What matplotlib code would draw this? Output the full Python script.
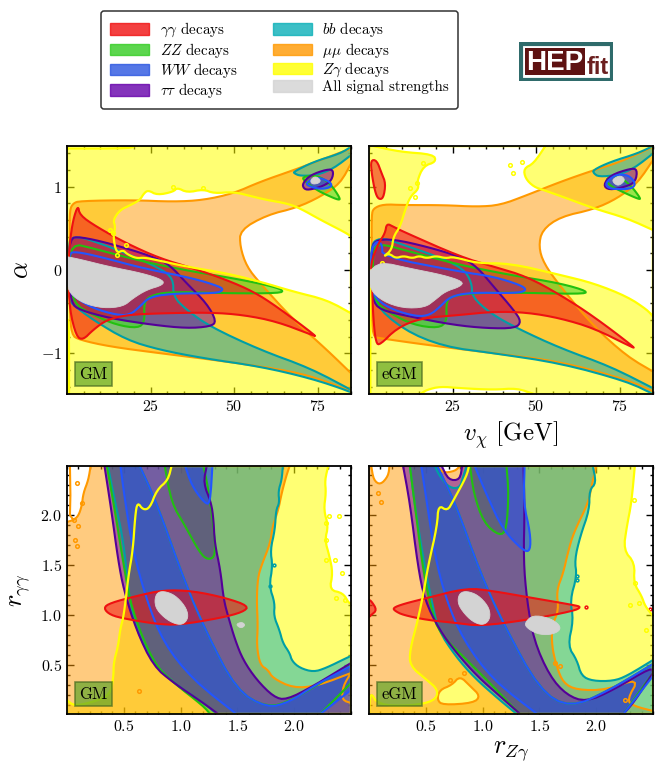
import numpy as np
import matplotlib
matplotlib.use("Agg")
import matplotlib.pyplot as plt
from matplotlib.path import Path
from matplotlib.patches import PathPatch, Patch, Rectangle
from matplotlib.ticker import MultipleLocator

plt.rcParams["font.family"] = "cmr10"
plt.rcParams["mathtext.fontset"] = "cm"
plt.rcParams["axes.formatter.use_mathtext"] = True

W, H = 665, 775

# Top row, GM: v_chi vs alpha
gm_a_yellow_holes = [
    [(14.8,.20),(13.8,.40),(14.5,.52),(13.8,.60),(15.8,.72),(19,.78),(21.8,.84),(23,.92),(24.3,.96),(27,.90),(31.8,.94),(33,.99),(36,.93),(40.8,.97),(44,.92),(49.8,.94),(55.8,.88),(60,.84),(65.8,.80),(69.8,.74),(76,.60),(83.8,.44),(85,.40),(85,-.52),(77.8,-.36),(67.8,-.26),(57.8,-.14),(47.8,-.04),(35.8,.04),(26.8,.12),(23,.15),(20.8,.14),(18,.19),(16.8,.24)],
    [(0,1.46),(19.8,1.46),(19.8,1.5),(0,1.5)],
    [(0,-.6),(.6,-.6),(.6,-1.49),(0,-1.49)],
]
gm_a_yellow_dots = [(12.8,.48),(13.8,.44),(17.8,.30),(15,.18),(40.8,.98),(31.8,1.0)]
gm_a_orange = [[(1.8,.80),(3.8,.83),(19.8,.84),(31.8,.82),(40.8,.84),(49.8,.92),(57.8,1.06),(67.8,1.20),(75.8,1.32),(85,1.46),(85,1.28),(81.8,1.04),(75.8,.88),(68.8,.75),(59.8,.66),(51.8,.48),(51.8,.28),(53.8,.04),(57.8,-.16),(67.8,-.60),(77.8,-.96),(85,-1.24),(85,-1.46),(77.8,-1.34),(67.8,-1.22),(47.8,-1.10),(27.8,-1.0),(12.8,-.92),(3.8,-.84),(1.3,-.78),(.8,-.44),(.8,.40),(.8,.72)]]
gm_a_teal = [
    [(1,.38),(3.8,.40),(9.8,.32),(17.8,.20),(27.8,.02),(31.8,-.10),(31.8,-.32),(35.8,-.48),(42.8,-.68),(57.8,-.96),(72.8,-1.18),(85,-1.44),(85,-1.49),(84.8,-1.46),(72.8,-1.30),(57.8,-1.16),(40.8,-1.06),(27.8,-.96),(17.8,-.84),(7.8,-.60),(1.8,-.42),(.8,-.36),(.4,-.04),(.6,.28)],
    [(67.8,1.18),(73.8,1.30),(81.8,1.40),(85,1.48),(85,1.38),(79.8,1.22),(74.8,1.14),(69.8,1.13),(68.1,1.16)],
]
gm_a_red = [[(3.3,.78),(3.8,.66),(8.8,.52),(17.8,.32),(27.8,.14),(37.8,.02),(47.8,-.12),(55.8,-.26),(62.8,-.44),(74.8,-.80),(73.3,-.78),(62.8,-.62),(52.8,-.54),(42.8,-.51),(27.8,-.52),(17.8,-.54),(11.8,-.60),(7.8,-.72),(4.8,-.84),(2.8,-.80),(.8,-.48),(.3,-.04),(.8,.32),(1.8,.60)]]
gm_a_green = [
    [(1.3,.32),(7.8,.26),(22.8,.10),(37.8,-.02),(49.8,-.10),(59.8,-.18),(64.8,-.24),(63.8,-.28),(47.8,-.28),(30.8,-.26),(24.8,-.31),(23,-.40),(23.3,-.62),(21.3,-.70),(14.8,-.66),(7.8,-.54),(1.8,-.40),(.6,-.04)],
    [(70.3,1.12),(74.8,1.14),(78.8,1.04),(81.8,.86),(81.3,.84),(77.8,.90),(74.8,.96),(71.3,1.06)],
]
gm_a_blue = [
    [(.4,.20),(2.8,.22),(9.8,.16),(22.8,.02),(37.8,-.10),(45.8,-.20),(46.8,-.24),(44.8,-.28),(32.8,-.28),(24.8,-.32),(21.8,-.44),(18.8,-.54),(14.8,-.54),(7.8,-.46),(2.8,-.34),(.6,-.24)],
    [(71.3,1.04),(74.8,1.12),(78.8,1.06),(79.3,1.0),(76.3,.97),(72.8,1.0)],
]
gm_a_purple = [
    [(.8,.38),(3.8,.40),(12.8,.32),(25.8,.16),(30.8,.06),(35.8,-.16),(41.8,-.40),(44.8,-.62),(42.8,-.68),(35.8,-.70),(25.8,-.66),(12.8,-.58),(3.8,-.48),(1.3,-.40),(.3,-.04)],
    [(70.5,1.04),(72.8,1.14),(77.8,1.21),(79.8,1.20),(79.3,1.08),(76.8,1.01),(72.3,.96),(70.8,.98)],
]
gm_a_grey = [
    [(0,.16),(3.8,.13),(12.8,.04),(22.8,-.04),(28.8,-.12),(28.8,-.18),(23.8,-.24),(19.8,-.34),(16.8,-.44),(10.8,-.46),(4.8,-.40),(.8,-.28),(0,-.16)],
    [(72.8,1.08),(74.3,1.13),(76,1.08),(75.3,1.04),(73.3,1.03)],
]

# Top row, eGM
egm_a_yellow_holes = [
    [(1.3,1.49),(9.3,1.42),(19.3,1.39),(20.1,1.30),(16.3,1.25),(14.3,1.06),(15,.98),(12.3,.88),(10.8,.72),(9.3,.52),(7.3,.40),(6.8,.24),(4.3,.16),(6,.20),(8,.14),(10.3,.17),(13,.14),(15,.17),(17.3,.14),(20,.17),(23,.14),(25.3,.16),(32.3,.08),(42.3,.08),(57.3,-.06),(67.3,-.16),(77.3,-.32),(83.3,-.48),(85,-.56),(85,.48),(77.3,.62),(67.3,.74),(59.3,.86),(52.3,.96),(49.3,1.0),(46.8,1.10),(46.3,1.22),(49.3,1.28),(52.8,1.49)],
    [(15.3,-1.49),(17.3,-1.44),(21.3,-1.40),(27.3,-1.42),(37.3,-1.44),(44.3,-1.42),(49.3,-1.49)],
    [(0,0),(.4,0),(.4,-1.49),(0,-1.49)],
]
egm_a_yellow_dots = [(42.3,1.26),(45.8,1.30),(43,1.17),(14.3,1.04),(16.3,1.28),(13.8,.88),(12.3,.98),(4,.08)]
egm_a_orange = [[(1.3,.74),(4.3,.79),(10.3,.78),(22.3,.78),(32.3,.76),(39.3,.78),(47.3,.90),(57.3,1.06),(67.3,1.20),(75.3,1.30),(85,1.48),(85,1.32),(80.3,1.04),(74.3,.86),(67.3,.73),(57.3,.64),(51.8,.48),(50.8,.28),(52.3,.08),(57.3,-.20),(67.3,-.68),(77.3,-1.04),(85,-1.22),(85,-1.46),(77.3,-1.32),(57.3,-1.10),(37.3,-1.0),(17.3,-.90),(3.3,-.82),(1.1,-.80),(.8,-.44),(.8,.36),(.8,.66)]]
egm_a_teal = [
    [(.8,.28),(1.8,.36),(4.8,.38),(10.3,.30),(19.3,.18),(28.3,.02),(30.8,-.16),(30.8,-.32),(36.3,-.52),(44.3,-.70),(57.3,-.94),(72.3,-1.16),(85,-1.42),(85,-1.49),(77.3,-1.34),(57.3,-1.12),(37.3,-1.0),(22.3,-.92),(10.3,-.72),(1.3,-.40),(.3,-.04)],
    [(67,1.20),(72.3,1.30),(80.3,1.40),(85,1.49),(85,1.40),(79.3,1.22),(74.3,1.14),(68.8,1.12),(67.3,1.16)],
]
egm_a_red = [
    [(5.3,.56),(7.3,.52),(10.3,.46),(27.3,.16),(37.3,.04),(47.3,-.08),(57.3,-.30),(67.3,-.56),(79.8,-.94),(78.3,-.92),(67.3,-.70),(57.3,-.58),(47.3,-.51),(37.3,-.50),(27.3,-.54),(15.3,-.58),(8.3,-.70),(3.3,-.90),(2.1,-.88),(1.3,-.60),(.8,-.12),(.5,.08),(2.8,.32),(4.8,.44)],
    [(.5,1.32),(2.3,1.32),(3.8,1.16),(5,1.04),(4.3,.86),(2.8,.85),(1.8,.94),(.8,1.16)],
]
egm_a_green = [
    [(1.1,.24),(3.3,.32),(12.3,.22),(27.3,.06),(42.3,-.06),(57.3,-.16),(65.8,-.26),(63.3,-.29),(42.3,-.27),(30.3,-.28),(24.3,-.32),(23.1,-.40),(23.3,-.62),(20.8,-.70),(13.3,-.66),(6.3,-.52),(1.1,-.36)],
    [(70.8,1.10),(74.3,1.14),(78.3,1.02),(81.3,.86),(80.8,.85),(76.3,.93),(71.8,1.02)],
]
egm_a_blue = [
    [(.4,.10),(1,.28),(2.5,.35),(4,.30),(4,.16),(27.3,-.02),(37.3,-.08),(45.3,-.18),(47.3,-.24),(44.3,-.28),(30.3,-.27),(24.3,-.32),(21.3,-.44),(18.3,-.54),(14.3,-.56),(7.3,-.48),(2.3,-.36),(.6,-.2)],
    [(70.6,1.04),(73.8,1.15),(77.8,1.14),(79.8,1.04),(78.8,.98),(75.3,.97),(71.8,.98)],
]
egm_a_purple = [
    [(.8,.24),(1.8,.36),(7.3,.37),(17.3,.28),(27.3,.16),(32.3,.04),(37.3,-.20),(43.3,-.48),(45.6,-.62),(43.8,-.70),(35.3,-.70),(25.3,-.66),(12.3,-.56),(3.3,-.48),(1.1,-.36),(.3,-.12)],
    [(70.1,1.02),(72.3,1.14),(78.3,1.22),(80.3,1.21),(79.8,1.06),(76.8,1.0),(71.8,.96)],
]
egm_a_grey = [
    [(0,-.02),(3.3,.10),(12.3,.02),(22.3,-.06),(28.3,-.14),(27.3,-.20),(22.8,-.26),(19.8,-.36),(16.8,-.45),(10.3,-.46),(4.3,-.38),(.3,-.24)],
    [(72.8,1.09),(75.3,1.14),(76.8,1.08),(74.8,1.01),(73.3,1.04)],
]

# Bottom row, GM: r_Zgamma vs r_gammagamma
gm_r_yellow = [[(0,.15),(.06,.09),(.23,.13),(.38,.20),(.41,.39),(.41,.52),(.45,.69),(.47,.87),(.50,.99),(.54,1.39),(.58,1.65),(.60,1.99),(.62,2.13),(.67,2.05),(.73,2.07),(.79,2.25),(.89,2.35),(.92,2.49),(2.30,2.49),(2.27,2.35),(2.28,2.22),(2.26,2.05),(2.30,1.89),(2.27,1.75),(2.31,1.59),(2.34,1.42),(2.31,1.25),(2.43,1.22),(2.48,1.12),(2.5,1.12),(2.5,.01),(0,.01)]]
gm_r_yellow_dots = [(2.31,1.99),(2.28,1.92),(2.36,1.55),(2.28,1.55),(2.42,1.42),(2.45,1.15),(2.37,1.17),(2.39,1.99),(2.28,1.75)]
gm_r_orange = [[(0,1.93),(.056,1.95),(.10,1.99),(.13,2.09),(.144,2.22),(.188,2.35),(.208,2.49),(1.96,2.49),(1.93,2.39),(1.89,2.22),(1.86,2.05),(1.81,1.89),(1.79,1.72),(1.71,1.49),(1.68,1.37),(1.67,1.15),(1.68,.89),(1.67,.69),(1.70,.50),(1.77,.45),(1.81,.37),(1.99,.27),(2.20,.29),(2.5,.42),(2.43,.29),(2.42,.15),(2.5,.12),(2.5,.01),(0,.01)]]
gm_r_orange_edge = [(.026,2.49),(.03,2.2),(.026,2.0),(.056,1.95)]
gm_r_orange_dots = [(.13,2.12),(.06,1.95),(.10,1.89),(.09,1.69),(.07,1.75),(.63,.24),(.09,2.32)]
gm_r_teal = [[(.36,2.49),(.42,2.15),(.50,1.72),(.54,1.22),(.61,.85),(.76,.52),(.94,.32),(1.20,.12),(1.32,.01),(2.5,.01),(2.5,.59),(2.46,.57),(2.28,.47),(2.17,.43),(2.05,.47),(1.98,.54),(1.96,.62),(1.90,.72),(1.87,.85),(1.82,.99),(1.83,1.12),(1.78,1.29),(1.81,1.49),(1.79,1.65),(1.83,1.85),(1.84,2.05),(1.87,2.12),(1.86,2.24),(1.89,2.35),(1.90,2.49)]]
gm_r_teal_dots = [(1.79,1.29),(1.82,1.5)]
gm_r_purple = [[(.33,2.49),(.39,2.05),(.45,1.55),(.50,1.25),(.61,.85),(.76,.49),(.94,.32),(1.20,.12),(1.33,.01),(2.5,.01),(2.5,.52),(2.17,.29),(1.93,.15),(1.82,.18),(1.67,.35),(1.55,.55),(1.48,.75),(1.42,.98),(1.38,1.15),(1.35,1.45),(1.30,1.72),(1.29,1.95),(1.27,2.12),(1.20,2.32),(1.23,2.49)]]
gm_r_green = [
    [(.35,2.49),(.41,2.12),(.50,1.49),(.57,1.05),(.76,.52),(.94,.32),(1.20,.09),(1.26,.01),(2.23,.01),(2.5,.32),(2.5,.51),(1.99,.15),(1.76,.07),(1.49,.25),(1.23,.82),(1.04,1.32),(.79,2.12),(.64,2.49)],
    [(.86,2.49),(.92,2.12),(1.04,1.89),(1.17,1.62),(1.24,1.55),(1.31,1.59),(1.29,1.89),(1.24,2.29),(1.20,2.49)],
]
gm_r_blue = [
    [(.47,2.49),(.51,2.15),(.58,1.65),(.70,1.15),(.85,.72),(1.11,.35),(1.49,.01),(2.23,.01),(2.5,.25),(2.5,.49),(2.17,.29),(1.96,.13),(1.76,.07),(1.49,.25),(1.23,.82),(1.04,1.32),(.79,2.12),(.64,2.49)],
    [(1.04,2.49),(1.10,2.29),(1.21,2.12),(1.26,2.11),(1.28,2.49)],
]
gm_r_red = [[(.32,1.07),(.38,1.12),(.61,1.19),(.85,1.25),(1.11,1.24),(1.40,1.17),(1.60,1.09),(1.55,1.03),(1.35,.97),(.98,.90),(.79,.91),(.52,.96),(.38,1.0)]]
gm_r_grey = [
    [(.85,1.24),(.95,1.20),(1.04,1.09),(1.07,.99),(1.04,.92),(.98,.90),(.88,.95),(.79,1.05),(.77,1.14),(.79,1.22)],
    [(1.49,.91),(1.54,.93),(1.57,.90),(1.54,.87),(1.51,.88)],
]

# Bottom row, eGM
egm_r_yellow = [[(.01,.24),(.08,.10),(.36,.09),(.58,.14),(.61,.25),(.51,.35),(.36,.49),(.36,.65),(.43,.95),(.48,1.22),(.52,1.49),(.60,1.89),(.61,2.10),(.69,2.04),(.74,2.14),(.86,2.39),(.88,2.49),(2.34,2.49),(2.31,2.12),(2.27,1.89),(2.24,1.65),(2.34,1.52),(2.33,1.32),(2.40,1.19),(2.43,1.09),(2.5,.99),(2.5,.01),(0,.01)]]
egm_r_yellow_dots = [(2.33,2.15),(2.34,1.32),(2.30,1.10),(2.38,1.12),(2.44,.85)]
egm_r_orange = [[(0,2.49),(.02,2.49),(.04,2.35),(.10,2.30),(.17,2.39),(.18,2.49),(.60,2.49),(.65,2.42),(.76,2.44),(.80,2.49),(2.0,2.49),(1.96,2.29),(1.93,2.12),(1.80,1.82),(1.75,1.62),(1.71,1.42),(1.65,1.24),(1.67,1.05),(1.61,.89),(1.61,.69),(1.65,.49),(1.71,.32),(1.83,.25),(2.09,.25),(2.38,.37),(2.27,.15),(2.33,.09),(2.5,.04),(2.5,.01),(0,.01)]]
egm_r_orange_hole = [[(.62,.25),(.73,.30),(.80,.39),(.89,.29),(.98,.19),(.92,.12),(.65,.10),(.60,.15)]]
egm_r_orange_dots = [(.08,2.22),(.11,2.13),(2.25,.15),(.84,.42),(.71,.35),(1.68,.49),(1.64,.52)]
egm_r_teal = [[(.36,2.49),(.40,2.12),(.48,1.55),(.55,1.15),(.61,.85),(.76,.59),(.93,.37),(1.15,.15),(1.30,.01),(2.5,.01),(2.5,.55),(2.27,.39),(2.15,.34),(1.97,.34),(1.87,.39),(1.83,.55),(1.75,.69),(1.80,.95),(1.77,1.15),(1.83,1.39),(1.81,1.55),(1.86,1.79),(1.94,2.05),(1.94,2.25),(2.0,2.32),(1.97,2.49),(.86,2.49),(.83,2.39),(.80,2.27),(.71,2.27),(.62,2.39),(.58,2.49)]]
egm_r_teal_dots = [(1.83,1.39),(1.83,1.35)]
egm_r_purple = [[(.30,2.49),(.36,2.12),(.43,1.49),(.49,1.15),(.62,.85),(.77,.62),(.95,.39),(1.15,.19),(1.33,.01),(2.24,.01),(2.34,.14),(2.5,.42),(2.49,.48),(2.15,.25),(1.91,.13),(1.74,.20),(1.59,.39),(1.45,.75),(1.39,1.15),(1.36,1.55),(1.37,2.05),(1.36,2.49),(.82,2.49),(.80,2.35),(.70,2.35),(.64,2.49)]]
egm_r_green = [
    [(.36,2.49),(.42,1.95),(.48,1.42),(.55,1.05),(.62,.82),(.86,.55),(1.09,.29),(1.30,.04),(1.33,.01),(2.24,.01),(2.5,.42),(2.5,.51),(2.12,.25),(1.77,.07),(1.50,.25),(1.18,.92),(.98,1.42),(.76,2.12),(.60,2.49)],
    [(.89,2.49),(.92,2.22),(1.01,1.92),(1.15,1.79),(1.21,1.85),(1.23,2.22),(1.21,2.49)],
]
egm_r_blue = [
    [(.46,2.49),(.51,2.12),(.58,1.59),(.68,1.15),(.83,.75),(1.09,.35),(1.48,.01),(2.24,.01),(2.5,.39),(2.5,.51),(2.12,.25),(1.77,.07),(1.50,.25),(1.18,.92),(.98,1.42),(.76,2.12),(.60,2.49)],
    [(.93,2.49),(1.04,2.19),(1.18,1.85),(1.36,1.64),(1.42,1.64),(1.42,1.82),(1.36,2.12),(1.37,2.49)],
]
egm_r_red = [
    [(.21,1.07),(.30,1.11),(.51,1.17),(.86,1.27),(1.09,1.24),(1.39,1.18),(1.80,1.10),(1.87,1.08),(1.80,1.04),(1.39,.95),(.98,.89),(.77,.92),(.51,.95),(.30,1.0),(.23,1.04)],
    [(0,1.15),(.02,1.14),(.07,1.05),(.02,1.0),(0,.98)],
]
egm_r_red_dots = [(1.91,1.08),(2.47,1.06)]
egm_r_grey = [
    [(.86,1.24),(.96,1.20),(1.05,1.09),(1.07,.99),(1.04,.92),(.98,.90),(.89,.95),(.80,1.07),(.78,1.15),(.80,1.22)],
    [(1.37,.92),(1.44,1.0),(1.59,.97),(1.68,.90),(1.68,.84),(1.59,.80),(1.48,.81),(1.39,.87)],
]

LEGEND_LABELS = [r"$\gamma\gamma$ decays", r"$ZZ$ decays", r"$WW$ decays", r"$\tau\tau$ decays",
                 r"$bb$ decays", r"$\mu\mu$ decays", r"$Z\gamma$ decays", "All signal strengths"]

COL = {"yellow": "#FFFF00", "orange": "#FF9900", "teal": "#0BB0B8", "purple": "#6600AA",
       "green": "#33CC22", "blue": "#2A55E0", "red": "#F01010", "grey": "#D3D3D3"}
EDGE = {"yellow": "#FFFF00", "orange": "#FF9900", "teal": "#009FA5", "purple": "#550099",
        "green": "#22C010", "blue": "#2255FF", "red": "#EE1111", "grey": "#D3D3D3"}
ALPHA = {"yellow": 0.55, "orange": 0.5, "teal": 0.5, "purple": 0.5, "green": 0.5, "blue": 0.6, "red": 0.55, "grey": 1}
# contour lines sit above every fill, the grey fill above them
EDGE_Z = {"yellow": 8.6, "orange": 8.1, "teal": 8.2, "green": 8.3, "purple": 8.4, "blue": 8.5, "red": 8.55, "grey": 9.1}


def smooth(pts, xlim, ylim, n=2):
    # corner cutting, vertices on the frame stay where they are
    pts = np.array(pts, float)
    xspan, yspan = xlim[1] - xlim[0], ylim[1] - ylim[0]
    for _ in range(n):
        on_frame = (pts[:, 0] <= xlim[0] + 0.002 * xspan) | (pts[:, 0] >= xlim[1] - 0.002 * xspan) \
            | (pts[:, 1] <= ylim[0] + 0.002 * yspan) | (pts[:, 1] >= ylim[1] - 0.002 * yspan)
        out = []
        for i in range(len(pts)):
            j = (i + 1) % len(pts)
            p, q = pts[i], pts[j]
            out.append(p if on_frame[i] else 0.75 * p + 0.25 * q)
            out.append(q if on_frame[j] else 0.25 * p + 0.75 * q)
        pts = np.array(out)
    return pts


def oriented(pts, ccw=True):
    x, y = pts[:, 0], pts[:, 1]
    area = np.sum(x * np.roll(y, -1) - np.roll(x, -1) * y)
    return pts if (area > 0) == ccw else pts[::-1]


def make_path(polys, holes, xlim, ylim):
    verts, codes = [], []
    for pts, ccw in [(p, True) for p in polys] + [(h, False) for h in holes]:
        s = oriented(smooth(pts, xlim, ylim), ccw)
        verts += list(s) + [s[0]]
        codes += [Path.MOVETO] + [Path.LINETO] * (len(s) - 1) + [Path.CLOSEPOLY]
    return Path(np.array(verts), codes)


def region(ax, name, polys, holes=(), lw=1.5, z=2):
    xlim, ylim = ax.get_xlim(), ax.get_ylim()
    path = make_path(polys, holes, xlim, ylim)
    ax.add_patch(PathPatch(path, fc=COL[name], ec="none", alpha=ALPHA[name], zorder=z))
    ax.add_patch(PathPatch(path, fc="none", ec=EDGE[name], lw=lw, zorder=EDGE_Z[name], joinstyle="round"))


def dots(ax, name, pts, size=2.6):
    x, y = zip(*pts)
    ax.plot(x, y, ls="none", marker="o", ms=size, mfc="none", mec=EDGE[name], mew=1.1, zorder=EDGE_Z[name])


def new_axes(left, top, xlim, ylim):
    ax = fig.add_axes([left / W, 1 - (top + 248) / H, 284 / W, 248 / H])
    ax.set_xlim(*xlim)
    ax.set_ylim(*ylim)
    ax.tick_params(which="both", direction="in", top=True, right=True, width=1.0, labelsize=11.5)
    ax.tick_params(which="major", length=5)
    ax.tick_params(which="minor", length=2.5)
    for s in ax.spines.values():
        s.set_linewidth(1.3)
        s.set_zorder(20)
    return ax


def model_tag(ax, label):
    ax.text(0.043, 0.05, label, transform=ax.transAxes, fontsize=12, va="bottom", ha="left", zorder=15,
            bbox=dict(boxstyle="square,pad=0.28", fc="#60A52B", ec="#4a6b20", lw=1.2, alpha=0.7))


fig = plt.figure(figsize=(W / 100, H / 100), dpi=100)

alim = ((0, 85), (-1.49, 1.49))
rlim = ((0, 2.5), (0.01, 2.49))

ax1 = new_axes(67, 146, *alim)
ax2 = new_axes(369, 146, *alim)
ax3 = new_axes(67, 466, *rlim)
ax4 = new_axes(369, 466, *rlim)

full_a = [[(0, -1.49), (85, -1.49), (85, 1.49), (0, 1.49)]]

region(ax1, "yellow", full_a, gm_a_yellow_holes, lw=1.6)
region(ax2, "yellow", full_a, egm_a_yellow_holes, lw=1.6)
region(ax3, "yellow", gm_r_yellow, lw=1.6)
region(ax4, "yellow", egm_r_yellow, lw=1.6)
dots(ax1, "yellow", gm_a_yellow_dots)
dots(ax2, "yellow", egm_a_yellow_dots)
dots(ax3, "yellow", gm_r_yellow_dots)
dots(ax4, "yellow", egm_r_yellow_dots)

region(ax1, "orange", gm_a_orange, z=2.5)
region(ax2, "orange", egm_a_orange, z=2.5)
region(ax3, "orange", gm_r_orange, z=2.5)
region(ax4, "orange", egm_r_orange, egm_r_orange_hole, z=2.5)
dots(ax3, "orange", gm_r_orange_dots)
dots(ax4, "orange", egm_r_orange_dots)
ax3.plot(*zip(*gm_r_orange_edge), color=EDGE["orange"], lw=1.5, zorder=EDGE_Z["orange"])

layers = [
    (ax1, gm_a_teal, gm_a_green, gm_a_purple, gm_a_blue, gm_a_red, gm_a_grey),
    (ax2, egm_a_teal, egm_a_green, egm_a_purple, egm_a_blue, egm_a_red, egm_a_grey),
    (ax3, gm_r_teal, gm_r_green, gm_r_purple, gm_r_blue, gm_r_red, gm_r_grey),
    (ax4, egm_r_teal, egm_r_green, egm_r_purple, egm_r_blue, egm_r_red, egm_r_grey),
]
for ax, teal, green, purple, blue, red, grey in layers:
    region(ax, "teal", teal, z=3)
    region(ax, "green", green, z=4)
    region(ax, "purple", purple, z=5)
    region(ax, "blue", blue, z=6)
    region(ax, "red", red, z=7)
    region(ax, "grey", grey, lw=0.6, z=9)
dots(ax3, "teal", gm_r_teal_dots, size=2)
dots(ax4, "teal", egm_r_teal_dots, size=2)
dots(ax4, "red", egm_r_red_dots, size=2)

for ax in (ax1, ax2):
    ax.set_xticks([25, 50, 75])
    ax.set_yticks([-1, 0, 1])
    ax.xaxis.set_minor_locator(MultipleLocator(5))
    ax.yaxis.set_minor_locator(MultipleLocator(0.2))
for ax in (ax3, ax4):
    ax.set_xticks([0.5, 1, 1.5, 2])
    ax.set_yticks([0.5, 1, 1.5, 2])
    ax.xaxis.set_minor_locator(MultipleLocator(0.1))
    ax.yaxis.set_minor_locator(MultipleLocator(0.1))
ax2.tick_params(labelleft=False)
ax4.tick_params(labelleft=False)

ax1.set_ylabel(r"$\alpha$", fontsize=19, labelpad=6)
ax3.set_ylabel(r"$r_{\gamma\gamma}$", fontsize=19, labelpad=6)
ax2.set_xlabel(r"$v_{\chi}$ [GeV]", fontsize=18, labelpad=4)
ax4.set_xlabel(r"$r_{Z\gamma}$", fontsize=19, labelpad=4)

model_tag(ax1, "GM")
model_tag(ax2, "eGM")
model_tag(ax3, "GM")
model_tag(ax4, "eGM")

# legend
names = ["red", "green", "blue", "purple", "teal", "orange", "yellow", "grey"]
handles = [Patch(fc=COL[n], ec=COL[n], alpha=0.8, lw=1) for n in names]
fig.legend(handles, LEGEND_LABELS, ncol=2, loc="upper left", bbox_to_anchor=(101 / W, 1 - 11 / H),
           bbox_transform=fig.transFigure, fontsize=10.8, frameon=True, fancybox=True, edgecolor="#333333",
           framealpha=1, handlelength=2.6, handleheight=0.8, labelspacing=0.08, columnspacing=2.35,
           handletextpad=0.7, borderpad=0.62, borderaxespad=0).get_frame().set_linewidth(1.1)

# HEPfit logo
logo = fig.add_axes([519 / W, 1 - 81 / H, 94 / W, 39 / H])
logo.set_xlim(0, 94)
logo.set_ylim(0, 39)
logo.axis("off")
logo.add_patch(Rectangle((1.5, 1.5), 91, 36, fc="white", ec="#2F6B6B", lw=3))
logo.add_patch(Rectangle((6, 6), 60, 27, fc="#5E1212", ec="none"))
logo.text(36, 18.5, "HEP", color="white", fontsize=20, family="Liberation Sans", weight="bold", ha="center", va="center")
logo.text(79, 14, "fit", color="#6B1F1F", fontsize=17, family="Liberation Sans", weight="bold", ha="center", va="center")

fig.savefig("out.png", dpi=100)
